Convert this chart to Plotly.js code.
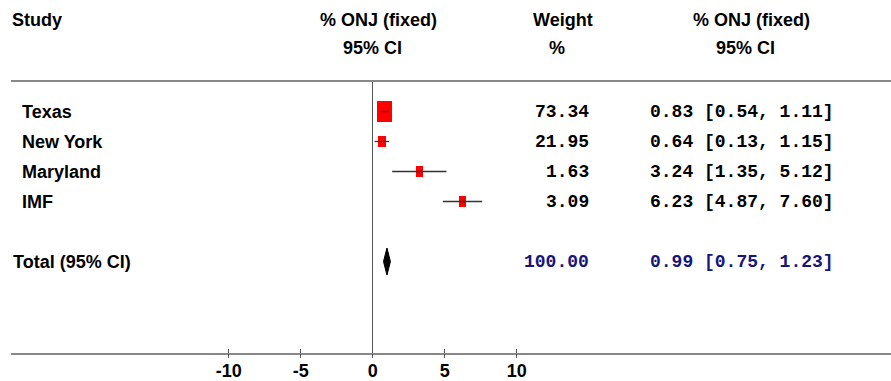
<!DOCTYPE html>
<html>
<head>
<meta charset="utf-8">
<script src="https://cdn.plot.ly/plotly-3.0.1.min.js"></script>
<style>html,body{margin:0;padding:0;background:#fff;}#chart{width:891px;height:381px;}</style>
</head>
<body>
<div id="chart"></div>
<script>
// ---- data ----
var studies   = ["Texas", "New York", "Maryland", "IMF"];
var estimates = [0.83, 0.64, 3.24, 6.23];
var ciLow     = [0.54, 0.13, 1.35, 4.87];
var ciHigh    = [1.11, 1.15, 5.12, 7.60];
var weights   = [73.34, 21.95, 1.63, 3.09];
var totalLabel = "Total (95% CI)";
var totalEst  = 0.99;
var totalLow  = 0.75;
var totalHigh = 1.23;
var totalWeight = 100.00;
var tickValues = [-10, -5, 0, 5, 10];
var tickLabels = ["-10", "-5", "0", "5", "10"];

// ---- layout geometry (pixels) ----
var W = 891, H = 381;
var mL = 11, mR = 0, mT = 82, mB = 28;
var plotW = W - mL - mR, plotH = H - mT - mB;
var zeroPx = 372.7, pxPerUnit = 14.4;       // x scale
var row0Px = 111.5, rowPx = 30;             // y scale
var xRange = [(mL - zeroPx) / pxPerUnit, (W - mR - zeroPx) / pxPerUnit];
var yRange = [(H - mB - row0Px) / rowPx, (mT - row0Px) / rowPx];
function px2x(px) { return (px - mL) / plotW; }
function py2y(py) { return (H - mB - py) / plotH; }

var rows = studies.map(function (_, i) { return i; });
var totalRow = studies.length + 1;
var wMax = Math.max.apply(null, weights);

// box sizes derived from weights
var boxWpx = weights.map(function (w) { return Math.max(7, 14.6 * Math.sqrt(w / wMax)); });
var boxW = boxWpx.map(function (p) { return p / pxPerUnit; });
var boxH = boxWpx.map(function (p) { return 1.5 * p / rowPx; });
var boxBase = estimates.map(function (e, i) { return e - boxW[i] / 2; });

var boxes = {
  type: "bar", orientation: "h",
  y: rows, x: boxW, base: boxBase, width: boxH,
  marker: { color: "#ff0000", line: { width: 0 } },
  hoverinfo: "skip", showlegend: false
};

var ciX = [], ciY = [];
studies.forEach(function (_, i) {
  ciX.push(ciLow[i], ciHigh[i], null);
  ciY.push(rows[i], rows[i], null);
});
var ciLines = {
  type: "scatter", mode: "lines", x: ciX, y: ciY,
  line: { color: "#333333", width: 1.3 },
  hoverinfo: "skip", showlegend: false
};

var dH = 0.45;
var diamond = {
  type: "scatter", mode: "lines",
  x: [totalLow, totalEst, totalHigh, totalEst, totalLow],
  y: [totalRow, totalRow - dH, totalRow, totalRow + dH, totalRow],
  fill: "toself", fillcolor: "#000000",
  line: { color: "#000000", width: 1 },
  hoverinfo: "skip", showlegend: false
};

var boldFont = { family: "Arial, 'Liberation Sans', sans-serif", size: 18, color: "#000" };
var monoFont = { family: "'Courier New', 'Liberation Mono', monospace", size: 18, color: "#000" };
var navy = "#16167a";

var ann = [];
function addHeader(text, cx, cy, anchor) {
  ann.push({ text: "<b>" + text + "</b>", xref: "paper", yref: "paper",
    x: px2x(cx), y: py2y(cy), xanchor: anchor || "center", yanchor: "middle",
    showarrow: false, font: boldFont });
}
addHeader("Study", 10, 20, "left");
addHeader("% ONJ (fixed)", 378, 20);
addHeader("95% CI", 372.5, 48);
addHeader("Weight", 563, 20);
addHeader("%", 557, 48);
addHeader("% ONJ (fixed)", 751, 20);
addHeader("95% CI", 745, 48);

function fmt(v) { return v.toFixed(2); }
studies.forEach(function (s, i) {
  ann.push({ text: "<b>" + s + "</b>", xref: "paper", yref: "y", x: px2x(20), y: rows[i],
    xanchor: "left", yanchor: "middle", showarrow: false, font: boldFont });
  ann.push({ text: "<b>" + fmt(weights[i]) + "</b>", xref: "paper", yref: "y", x: px2x(591), y: rows[i],
    xanchor: "right", yanchor: "middle", showarrow: false, font: monoFont });
  ann.push({ text: "<b>" + fmt(estimates[i]) + " [" + fmt(ciLow[i]) + ", " + fmt(ciHigh[i]) + "]</b>",
    xref: "paper", yref: "y", x: px2x(648), y: rows[i],
    xanchor: "left", yanchor: "middle", showarrow: false, font: monoFont });
});
ann.push({ text: "<b>" + totalLabel + "</b>", xref: "paper", yref: "y", x: px2x(11), y: totalRow,
  xanchor: "left", yanchor: "middle", showarrow: false, font: boldFont });
var navyFont = Object.assign({}, monoFont, { color: navy });
ann.push({ text: "<b>" + fmt(totalWeight) + "</b>", xref: "paper", yref: "y", x: px2x(591), y: totalRow,
  xanchor: "right", yanchor: "middle", showarrow: false, font: navyFont });
ann.push({ text: "<b>" + fmt(totalEst) + " [" + fmt(totalLow) + ", " + fmt(totalHigh) + "]</b>",
  xref: "paper", yref: "y", x: px2x(648), y: totalRow,
  xanchor: "left", yanchor: "middle", showarrow: false, font: navyFont });

var layout = {
  width: W, height: H,
  margin: { l: mL, r: mR, t: mT, b: mB, pad: 0 },
  paper_bgcolor: "#ffffff", plot_bgcolor: "#ffffff",
  showlegend: false,
  bargap: 0,
  xaxis: {
    range: xRange, fixedrange: true,
    showgrid: false,
    zeroline: true, zerolinecolor: "#555555", zerolinewidth: 1.5,
    showline: true, mirror: true, linecolor: "#888888", linewidth: 2,
    tickmode: "array", tickvals: tickValues, ticktext: tickLabels.map(function (t) { return "<b>" + t + "</b>"; }),
    ticks: "inside", ticklen: 4, tickwidth: 1.5, tickcolor: "#555555",
    tickfont: boldFont
  },
  xaxis2: {
    range: xRange, overlaying: "x", anchor: "y", side: "bottom", fixedrange: true,
    showgrid: false, zeroline: false, showline: false,
    tickmode: "array", tickvals: tickValues, showticklabels: false,
    ticks: "outside", ticklen: 4, tickwidth: 1.5, tickcolor: "#555555"
  },
  yaxis: {
    range: yRange, fixedrange: true,
    showgrid: false, zeroline: false, showline: false, showticklabels: false, ticks: ""
  },
  annotations: ann
};

var dummy = { type: "scatter", mode: "none", x: [xRange[0]], y: [totalRow], xaxis: "x2", yaxis: "y",
  hoverinfo: "skip", showlegend: false };

Plotly.newPlot("chart", [boxes, ciLines, diamond, dummy], layout, { staticPlot: true, displayModeBar: false });
</script>
</body>
</html>
